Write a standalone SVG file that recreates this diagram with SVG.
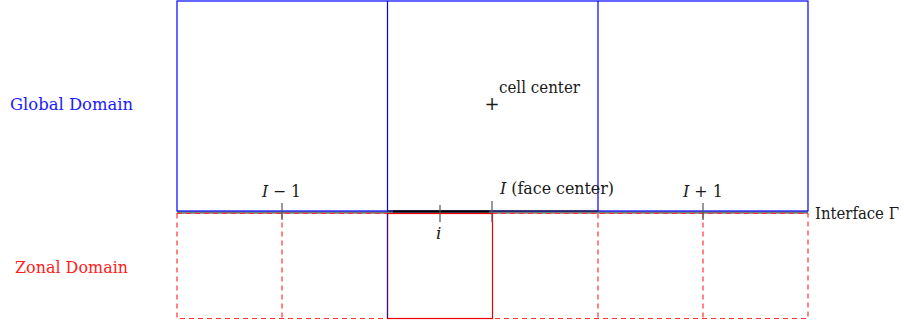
<svg xmlns="http://www.w3.org/2000/svg" width="904" height="324" viewBox="0 0 904 324">
<style>
text{font-family:"DejaVu Serif","Liberation Serif",serif;font-size:16px;fill:#1a1a1a}
.it{font-style:italic}
.blue{fill:none;stroke:#0000ff;stroke-width:1.2}
.zdash{fill:none;stroke:#ff3333;stroke-width:1.2;stroke-dasharray:5 4}
.tick{stroke:#555;stroke-width:1.2}
</style>
<rect width="904" height="324" fill="#fff"/>
<g id="connectors">
<line x1="177" y1="212.5" x2="808" y2="212.5" stroke="#777" stroke-width="2.5"/>
</g>
<g id="global-domain">
<rect class="blue" x="177" y="1" width="631" height="210"/>
<line class="blue" x1="387.5" y1="1" x2="387.5" y2="211"/>
<line class="blue" x1="598" y1="1" x2="598" y2="211"/>
<line x1="387.5" y1="211" x2="598" y2="211" stroke="#111" stroke-width="1.2"/>
</g>
<g id="zonal-domain">
<rect class="zdash" x="177" y="213.5" width="631" height="105"/>
<line class="zdash" x1="282" y1="213.5" x2="282" y2="318.5"/>
<line class="zdash" x1="598" y1="213.5" x2="598" y2="318.5"/>
<line class="zdash" x1="703" y1="213.5" x2="703" y2="318.5" stroke="#cc0000"/>
</g>
<g id="zonal-cell-i">
<rect x="387.5" y="213.5" width="105" height="105" fill="none" stroke="#ee0000" stroke-width="1.2"/>
<line x1="387.5" y1="213.5" x2="387.5" y2="318.5" stroke="#3a1080" stroke-width="1.2"/>
<line x1="393" y1="211.5" x2="489" y2="211.5" stroke="#000" stroke-width="2.2"/>
</g>
<g id="ticks">
<line class="tick" x1="282" y1="203" x2="282" y2="220"/>
<line class="tick" x1="440" y1="205" x2="440" y2="222"/>
<line class="tick" x1="492" y1="201" x2="492" y2="222"/>
<line class="tick" x1="703" y1="203" x2="703" y2="220"/>
</g>
<g id="labels">
<text x="10" y="110" style="fill:#1a1aff" textLength="123" lengthAdjust="spacingAndGlyphs">Global Domain</text>
<text x="15" y="273" style="fill:#ff2020" textLength="113" lengthAdjust="spacingAndGlyphs">Zonal Domain</text>
<text x="499" y="93" textLength="81" lengthAdjust="spacingAndGlyphs">cell center</text>
<text x="492" y="110" text-anchor="middle" style="font-size:18px;font-weight:300">+</text>
<text x="262" y="197" style="font-size:17px" textLength="39" lengthAdjust="spacingAndGlyphs"><tspan class="it">I</tspan> − 1</text>
<text x="683" y="197" style="font-size:17px" textLength="40" lengthAdjust="spacingAndGlyphs"><tspan class="it">I</tspan> + 1</text>
<text x="436" y="239" class="it" style="font-size:17px">i</text>
<text x="500" y="194" textLength="114" lengthAdjust="spacingAndGlyphs"><tspan class="it">I</tspan>  (face center)</text>
<text x="815" y="219" textLength="84" lengthAdjust="spacingAndGlyphs">Interface Γ</text>
</g>
</svg>
